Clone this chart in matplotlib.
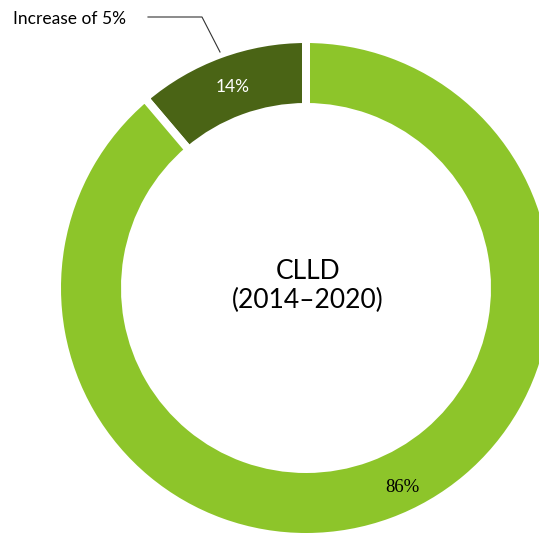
import matplotlib
matplotlib.use("Agg")
import matplotlib.pyplot as plt

# slice shares as drawn (labels)
shares = [11.2, 88.8]
labels = ["14%", "86%"]
colors = ["#4a6415", "#8dc52a"]
center_title = "CLLD\n(2014\u20132020)"
callout = "Increase of 5%"

W, H = 539, 535
fig = plt.figure(figsize=(W / 100, H / 100), dpi=100)
ax = fig.add_axes([0, 0, 1, 1])

cx, cy = 306, H - 288
lw_px = 8
wedges, _ = ax.pie(shares, colors=colors, startangle=90, counterclock=True,
                   center=(cx, cy), radius=245 + lw_px / 2, frame=True,
                   wedgeprops=dict(width=60 + lw_px, edgecolor="white",
                                   linewidth=lw_px * 72 / 100))
ax.set_xlim(0, W)
ax.set_ylim(0, H)
ax.set_aspect("equal")
ax.axis("off")

ax.text(233, H - 87, labels[0], color="white", fontsize=12.5, family="Lato",
        ha="center", va="center")
ax.text(402, H - 487, labels[1], color="black", fontsize=13.5,
        family="Liberation Serif", ha="center", va="center")

ax.text(cx + 2, cy + 2, center_title, fontsize=19, family="Lato", ha="center",
        va="center", linespacing=1.15)

ax.text(13, H - 19, callout, fontsize=12.5, family="Lato", ha="left", va="center")
ax.plot([148, 202, 220], [H - 17, H - 17, H - 52], color="#333333", lw=0.8)

fig.savefig("out.png", dpi=100)
